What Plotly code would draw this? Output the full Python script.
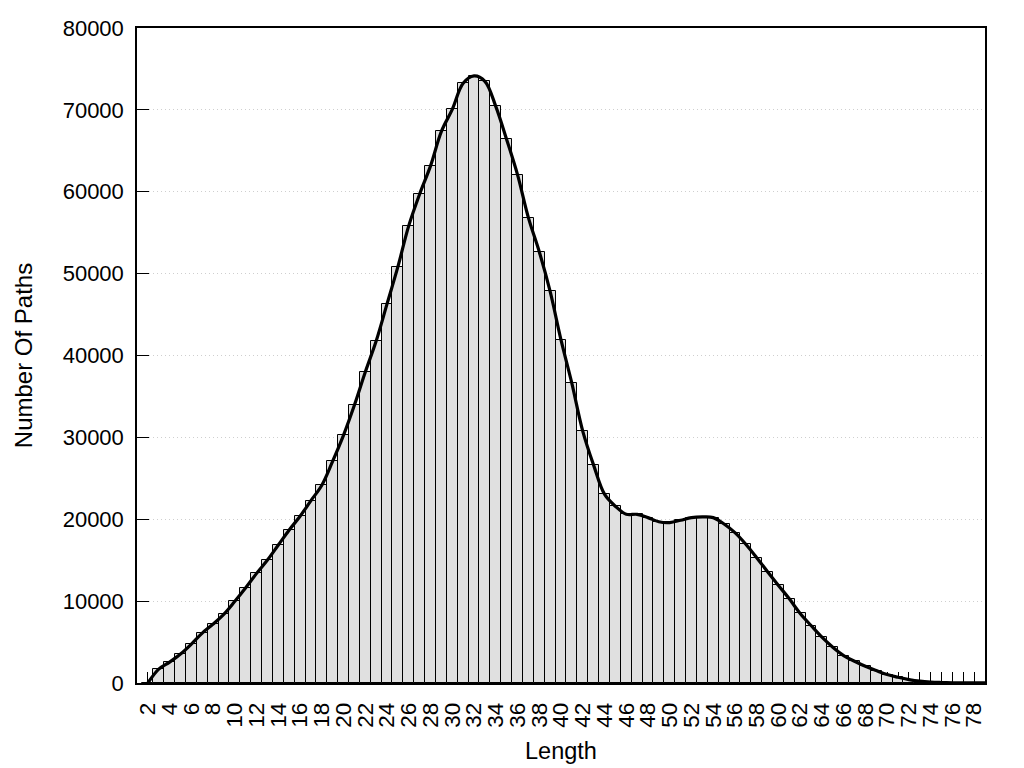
import plotly.graph_objects as go

lengths = list(range(2, 80))
paths = [
    0, 1690, 2550, 3530, 4750, 6100, 7200, 8420, 9980, 11630,
    13390, 15020, 16860, 18690, 20370, 22280, 24160, 27100, 30280, 33950,
    37990, 41770, 46300, 50850, 55860, 59730, 63160, 67370, 70060, 73240,
    74150, 73490, 70430, 66390, 62100, 56840, 52680, 47820, 41910, 36600,
    30770, 26610, 23060, 21590, 20610, 20600, 20200, 19700, 19600, 19880,
    20200, 20280, 20200, 19420, 18360, 16940, 15300, 13590, 11920, 10280,
    8490, 7020, 5590, 4370, 3350, 2660, 2040, 1520, 1030, 700,
    420, 220, 110, 60, 30, 15, 8, 4,
]
x_tick_vals = list(range(2, 80, 2))
y_tick_vals = list(range(0, 80001, 10000))

FONT = "Liberation Sans, Arial, sans-serif"

fig = go.Figure()
fig.add_trace(go.Bar(
    x=lengths, y=paths, width=1,
    marker=dict(color="#e0e0e0", line=dict(color="black", width=1)),
    showlegend=False, hoverinfo="skip",
))
fig.add_trace(go.Scatter(
    x=lengths, y=paths, mode="lines",
    line=dict(color="black", width=3.2, shape="spline", smoothing=1),
    showlegend=False, hoverinfo="skip",
))

fig.update_layout(
    width=1024, height=768,
    margin=dict(l=129, r=47, t=20, b=93),
    plot_bgcolor="white", paper_bgcolor="white",
    bargap=0,
    font=dict(family=FONT, size=22, color="black"),
    xaxis=dict(
        range=[1, 79],
        tickmode="array", tickvals=x_tick_vals,
        ticktext=[str(v) for v in x_tick_vals],
        tickangle=-90,
        ticks="inside", ticklen=11, tickwidth=1, tickcolor="black",
        minor=dict(dtick=1, tick0=1, ticks="inside", ticklen=11, tickcolor="black", showgrid=False),
        showgrid=False, zeroline=False,
        showline=True, linecolor="black", linewidth=1.5, mirror=True,
        layer="below traces",
        tickfont=dict(size=22.5),
        title=dict(text="Length", font=dict(size=23.5), standoff=16),
        ticklabelstandoff=9,
        automargin=False,
    ),
    yaxis=dict(
        range=[0, 80000],
        tickmode="array", tickvals=y_tick_vals,
        ticktext=[str(v) for v in y_tick_vals],
        ticks="inside", ticklen=12, tickwidth=1, tickcolor="black",
        showgrid=True, gridcolor="#cfcfcf", griddash="1px,3px", gridwidth=1,
        zeroline=False,
        showline=True, linecolor="black", linewidth=1.5, mirror=True,
        layer="below traces",
        tickfont=dict(size=22),
        title=dict(text="Number Of Paths", font=dict(size=24), standoff=23),
        ticklabelstandoff=7,
        automargin=False,
    ),
)

fig.write_html("out.html")
